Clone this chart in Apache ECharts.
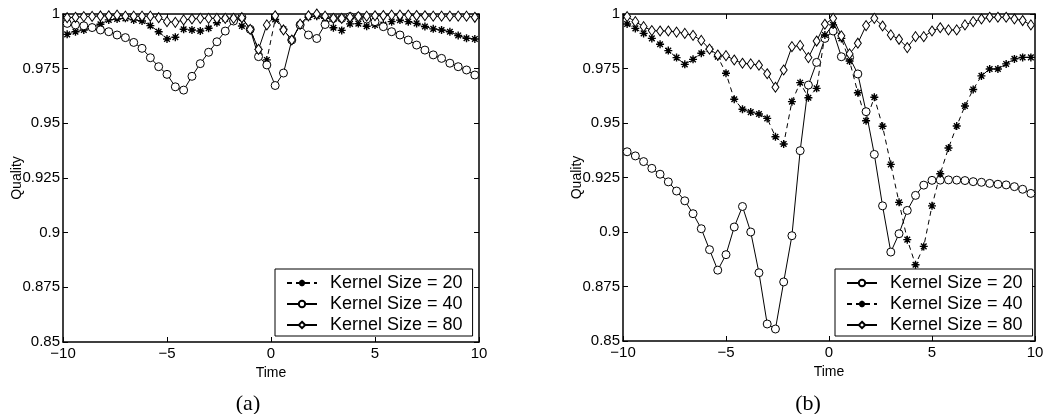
<!DOCTYPE html>
<html>
<head>
<meta charset="utf-8">
<script src="https://cdn.jsdelivr.net/npm/echarts@6/dist/echarts.min.js"></script>
<style>
html, body { margin: 0; padding: 0; background: #fff; }
#wrap { position: relative; width: 1044px; height: 414px; overflow: hidden; }
.chart { position: absolute; top: 0; width: 522px; height: 414px; }
#chart1 { left: 0; }
#chart2 { left: 522px; }
</style>
</head>
<body>
<div id="wrap">
    <div id="chart1" class="chart"></div>
    <div id="chart2" class="chart"></div>
</div>
<script>
// sample times (x axis)
var times = [-9.8, -9.4, -9.0, -8.6, -8.2, -7.8, -7.4, -7.0, -6.6, -6.2,
    -5.8, -5.4, -5.0, -4.6, -4.2, -3.8, -3.4, -3.0, -2.6, -2.2,
    -1.8, -1.4, -1.0, -0.6, -0.2, 0.2, 0.6, 1.0, 1.4, 1.8,
    2.2, 2.6, 3.0, 3.4, 3.8, 4.2, 4.6, 5.0, 5.4, 5.8,
    6.2, 6.6, 7.0, 7.4, 7.8, 8.2, 8.6, 9.0, 9.4, 9.8];

var legendNames = ['Kernel Size = 20', 'Kernel Size = 40', 'Kernel Size = 80'];

// (a)
var leftK20 = [0.9907, 0.9919, 0.9927, 0.9938, 0.9953, 0.9973, 0.9977, 0.998, 0.9973, 0.9968,
    0.9947, 0.9919, 0.9886, 0.9894, 0.993, 0.9927, 0.9922, 0.9935, 0.996, 0.9978,
    0.998, 0.9945, 0.9928, 0.9838, 0.979, 0.9975, 0.993, 0.9881, 0.995, 0.9985,
    0.999, 0.998, 0.9937, 0.9925, 0.9955, 0.9956, 0.9944, 0.995, 0.9952, 0.9965,
    0.9972, 0.9965, 0.9957, 0.9943, 0.9932, 0.9927, 0.9919, 0.9902, 0.9889, 0.9886];
var leftK40 = [0.9957, 0.995, 0.9946, 0.9938, 0.9927, 0.9919, 0.9904, 0.9892, 0.987, 0.9843,
    0.980, 0.9759, 0.9724, 0.9667, 0.9652, 0.9715, 0.9773, 0.9825, 0.9873, 0.9922,
    0.9968, 0.9985, 0.993, 0.9805, 0.9767, 0.9673, 0.973, 0.9881, 0.995, 0.9904,
    0.9888, 0.9952, 0.998, 0.998, 0.9988, 0.9988, 0.9977, 0.9965, 0.9942, 0.9919,
    0.9904, 0.9881, 0.9858, 0.9835, 0.9813, 0.9797, 0.9775, 0.9759, 0.9744, 0.9721];
var leftK80 = [0.9983, 0.9985, 0.9988, 0.9989, 0.9991, 0.9992, 0.9995, 0.999, 0.999, 0.999,
    0.999, 0.9983, 0.9965, 0.9962, 0.9973, 0.9977, 0.998, 0.998, 0.998, 0.998,
    0.998, 0.9983, 0.993, 0.9838, 0.995, 0.9992, 0.9927, 0.9881, 0.9954, 0.9992,
    1.0, 0.999, 0.998, 0.998, 0.9985, 0.9988, 0.999, 0.9992, 0.9993, 0.9995,
    0.9995, 0.9995, 0.9993, 0.9992, 0.999, 0.999, 0.999, 0.999, 0.999, 0.9985];

// (b)
var rightK20 = [0.9368, 0.9349, 0.9323, 0.9292, 0.9265, 0.923, 0.9188, 0.9143, 0.9084, 0.9015,
    0.8919, 0.8825, 0.8896, 0.9023, 0.9117, 0.900, 0.8813, 0.8578, 0.8555, 0.8771,
    0.8983, 0.9373, 0.9674, 0.9778, 0.9888, 0.9922, 0.9804, 0.980, 0.9725, 0.9552,
    0.9356, 0.912, 0.8908, 0.8992, 0.9099, 0.9168, 0.9215, 0.9237, 0.9238, 0.9239,
    0.9238, 0.9236, 0.9231, 0.9228, 0.9223, 0.9219, 0.9216, 0.9208, 0.9196, 0.9177];
var rightK40 = [0.9954, 0.9934, 0.9911, 0.9888, 0.9861, 0.9832, 0.980, 0.9769, 0.9792, 0.982,
    0.9838, 0.9804, 0.9728, 0.9609, 0.9563, 0.955, 0.9541, 0.9521, 0.9437, 0.9404,
    0.9598, 0.9685, 0.9616, 0.9659, 0.9904, 0.995, 0.9888, 0.9784, 0.9639, 0.951,
    0.9618, 0.9485, 0.931, 0.9136, 0.8965, 0.885, 0.8934, 0.912, 0.9267, 0.9385,
    0.9486, 0.9578, 0.9654, 0.9716, 0.9748, 0.9748, 0.9771, 0.9794, 0.9801, 0.9801];
var rightK80 = [0.9988, 0.9965, 0.9942, 0.9924, 0.9922, 0.9922, 0.9917, 0.9911, 0.9902, 0.9879,
    0.9839, 0.9812, 0.9809, 0.9789, 0.9774, 0.9771, 0.9765, 0.9726, 0.9664, 0.9743,
    0.985, 0.9856, 0.980, 0.9876, 0.9953, 0.998, 0.990, 0.9817, 0.9866, 0.9947,
    0.998, 0.9945, 0.9904, 0.9884, 0.9846, 0.9896, 0.9896, 0.9922, 0.9937, 0.9927,
    0.9927, 0.995, 0.9965, 0.9977, 0.9985, 0.9985, 0.9985, 0.9977, 0.997, 0.995];

var chart1, chart2, option1, option2;

var FONT = 'Liberation Sans';
// matlab style '*' marker
var STAR = 'path://M0,-10L0,10M-10,0L10,0M-7,-7L7,7M-7,7L7,-7';

function pairs(values) {
    return times.map(function(t, i) { return [t, values[i]]; });
}

function xLabel(v) {
    return v < 0 ? '\u2212' + (-v) : String(v);
}

function yLabel(v) {
    return String(+v.toFixed(3));
}

function lineSeries(name, values, kind) {
    var s = {
        name: name,
        type: 'line',
        data: pairs(values),
        clip: false,
        showSymbol: true,
        animation: false,
        emphasis: { disabled: true },
        lineStyle: { color: '#000', width: 1, type: 'solid' },
        itemStyle: { color: '#fff', borderColor: '#000', borderWidth: 1 }
    };
    if (kind == 'star') {
        s.symbol = STAR;
        s.symbolSize = 8;
        s.lineStyle.type = [5, 4];
        s.itemStyle = { color: '#000', borderColor: '#000', borderWidth: 1.4 };
    } else if (kind == 'circle') {
        s.symbol = 'circle';
        s.symbolSize = 8;
    } else {
        s.symbol = 'diamond';
        s.symbolSize = [7, 10];
    }
    return s;
}

function makeOption(g, legendLeft, caption, captionX, series) {
    var axisLine = { onZero: false, lineStyle: { color: '#000', width: 1.5 } };
    var tick = { inside: true, length: 5, lineStyle: { color: '#000', width: 1 } };
    var txt = { color: '#000', fontSize: 14, fontFamily: FONT };
    return {
        animation: false,
        backgroundColor: '#fff',
        textStyle: { color: '#000', fontSize: 14, fontFamily: FONT },
        grid: {
            left: g.left,
            top: g.top,
            width: g.width,
            height: g.height,
            containLabel: false,
            outerBoundsMode: 'none'
        },
        legend: {
            orient: 'vertical',
            left: legendLeft,
            top: 269,
            padding: [5, 10, 2, 11],
            itemGap: 3,
            itemWidth: 30,
            itemHeight: 8,
            borderColor: '#000',
            borderWidth: 1,
            backgroundColor: '#fff',
            selectedMode: false,
            textStyle: { color: '#000', fontSize: 18, fontFamily: FONT, padding: [0, 0, 0, 8] },
            data: legendNames
        },
        xAxis: [{
            type: 'value',
            position: 'bottom',
            min: -10,
            max: 10,
            interval: 5,
            axisLine: axisLine,
            axisTick: tick,
            splitLine: { show: false },
            axisLabel: { color: '#000', fontSize: 15, fontFamily: FONT, margin: 4, formatter: xLabel },
            name: 'Time',
            nameLocation: 'middle',
            nameGap: 24,
            nameMoveOverlap: false,
            nameTextStyle: txt
        }, {
            type: 'value',
            position: 'top',
            min: -10,
            max: 10,
            interval: 5,
            axisLine: axisLine,
            axisTick: tick,
            splitLine: { show: false },
            axisLabel: { show: false }
        }],
        yAxis: [{
            type: 'value',
            position: 'left',
            min: 0.85,
            max: 1,
            interval: 0.025,
            axisLine: axisLine,
            axisTick: tick,
            splitLine: { show: false },
            axisLabel: { color: '#000', fontSize: 15, fontFamily: FONT, margin: 3, formatter: yLabel },
            name: 'Quality',
            nameLocation: 'middle',
            nameGap: 39,
            nameMoveOverlap: false,
            nameTextStyle: txt
        }, {
            type: 'value',
            position: 'right',
            min: 0.85,
            max: 1,
            interval: 0.025,
            axisLine: axisLine,
            axisTick: tick,
            splitLine: { show: false },
            axisLabel: { show: false }
        }],
        graphic: [{
            type: 'text',
            x: captionX,
            y: 404,
            style: {
                text: caption,
                fontSize: 22,
                fontFamily: 'Liberation Serif',
                fill: '#000',
                align: 'center',
                verticalAlign: 'middle'
            }
        }],
        series: series
    };
}

function initChart() {
    chart1 = echarts.init(document.getElementById('chart1'));
    option1 = makeOption({ left: 63, top: 14, width: 416, height: 328 }, 275, '(a)', 248, [
        lineSeries(legendNames[0], leftK20, 'star'),
        lineSeries(legendNames[1], leftK40, 'circle'),
        lineSeries(legendNames[2], leftK80, 'diamond')
    ]);
    chart1.setOption(option1);

    chart2 = echarts.init(document.getElementById('chart2'));
    option2 = makeOption({ left: 101, top: 14, width: 412, height: 327 }, 313, '(b)', 286, [
        lineSeries(legendNames[0], rightK20, 'circle'),
        lineSeries(legendNames[1], rightK40, 'star'),
        lineSeries(legendNames[2], rightK80, 'diamond')
    ]);
    chart2.setOption(option2);
}

initChart();
</script>
</body>
</html>
